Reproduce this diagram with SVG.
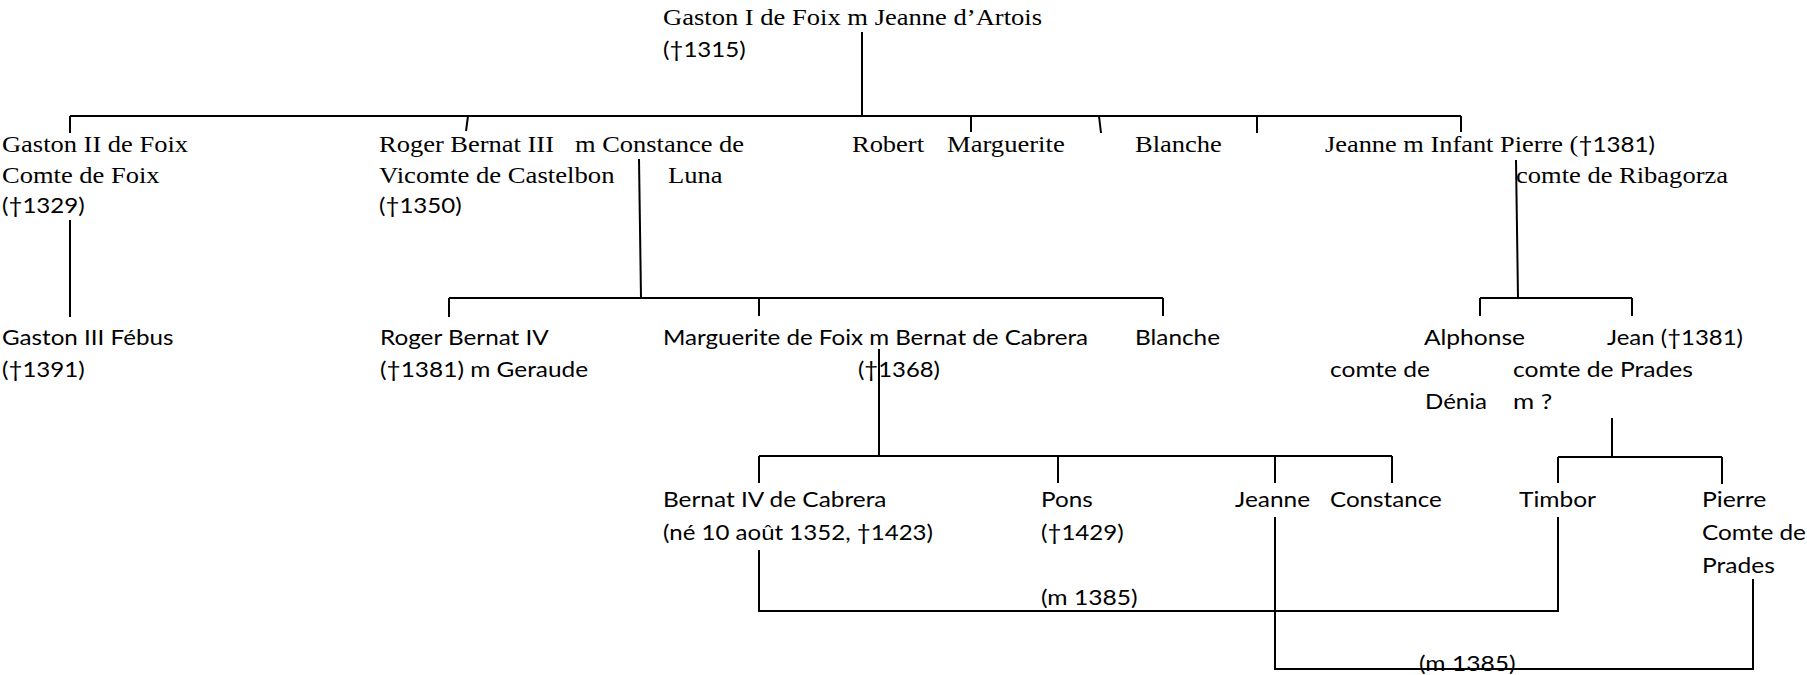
<svg xmlns="http://www.w3.org/2000/svg" width="1807" height="675" viewBox="0 0 1807 675">
<style>
.t{font-family:"Liberation Serif","Times New Roman",serif;font-size:24px;fill:#000}
.c{font-family:Lato,Carlito,"Liberation Sans",sans-serif;font-size:22px;fill:#000}
.ln{stroke:#000;stroke-width:2;fill:none}
</style>
<rect width="1807" height="675" fill="#fff"/>
<g id="connectors" class="ln">
<path d="M862 32V116"/>
<path d="M70 116H1461"/>
<path d="M70 116V133M468 116L466 131M971 116V132M1099 116L1101 133M1257 116V133M1461 116V132"/>
<path d="M70 220V317"/>
<path d="M639 159L641 298"/>
<path d="M449 298H1163M449 298V317M759 298V316M1163 298V316"/>
<path d="M1516 160L1518 298"/>
<path d="M1480 298H1632M1480 298V316M1632 298V316"/>
<path d="M879 349V456"/>
<path d="M759 456H1392M759 456V483M1058 456V483M1275 456V483M1392 456V483"/>
<path d="M1612 418V457"/>
<path d="M1558 457H1722M1558 457V483M1722 457V484"/>
<path d="M759 550V611H1558V517"/>
<path d="M1275 517V669H1753V579"/>
</g>
<g id="marriage-labels">
<text class="c" x="1041" y="605" textLength="96.6" lengthAdjust="spacingAndGlyphs">(m 1385)</text>
<text class="c" x="1419" y="671" textLength="96.6" lengthAdjust="spacingAndGlyphs">(m 1385)</text>
</g>
<g id="n-gaston1">
<text class="t" x="663" y="25" textLength="379" lengthAdjust="spacingAndGlyphs">Gaston I de Foix m Jeanne d’Artois</text>
<text class="c" x="663" y="57" textLength="82.7" lengthAdjust="spacingAndGlyphs">(†1315)</text>
</g>
<g id="n-gaston2">
<text class="t" x="2" y="152" textLength="186" lengthAdjust="spacingAndGlyphs">Gaston II de Foix</text>
<text class="t" x="2" y="183" textLength="157.5" lengthAdjust="spacingAndGlyphs">Comte de Foix</text>
<text class="c" x="2" y="213" textLength="82.7" lengthAdjust="spacingAndGlyphs">(†1329)</text>
</g>
<g id="n-roger3">
<text class="t" x="379" y="152" textLength="175" lengthAdjust="spacingAndGlyphs">Roger Bernat III</text>
<text class="t" x="575" y="152" textLength="169" lengthAdjust="spacingAndGlyphs">m Constance de</text>
<text class="t" x="379" y="183" textLength="235.5" lengthAdjust="spacingAndGlyphs">Vicomte de Castelbon</text>
<text class="t" x="668" y="183" textLength="54.5" lengthAdjust="spacingAndGlyphs">Luna</text>
<text class="c" x="379" y="213" textLength="82.7" lengthAdjust="spacingAndGlyphs">(†1350)</text>
</g>
<g id="n-robert">
<text class="t" x="852" y="152" textLength="72" lengthAdjust="spacingAndGlyphs">Robert</text>
</g>
<g id="n-marguerite1">
<text class="t" x="947" y="152" textLength="117.7" lengthAdjust="spacingAndGlyphs">Marguerite</text>
</g>
<g id="n-blanche1">
<text class="t" x="1135" y="152" textLength="86.8" lengthAdjust="spacingAndGlyphs">Blanche</text>
</g>
<g id="n-jeanne1">
<text x="1325" y="152" textLength="330" lengthAdjust="spacingAndGlyphs"><tspan class="t">Jeanne m Infant Pierre (</tspan><tspan class="c">†1381)</tspan></text>
<text class="t" x="1516" y="183" textLength="212" lengthAdjust="spacingAndGlyphs">comte de Ribagorza</text>
</g>
<g id="n-gaston3">
<text class="c" x="2" y="345" textLength="171.4" lengthAdjust="spacingAndGlyphs">Gaston III Fébus</text>
<text class="c" x="2" y="377" textLength="82.7" lengthAdjust="spacingAndGlyphs">(†1391)</text>
</g>
<g id="n-roger4">
<text class="c" x="380" y="345" textLength="168.8" lengthAdjust="spacingAndGlyphs">Roger Bernat IV</text>
<text class="c" x="380" y="377" textLength="208.2" lengthAdjust="spacingAndGlyphs">(†1381) m Geraude</text>
</g>
<g id="n-marguerite2">
<text class="c" x="663" y="345" textLength="425" lengthAdjust="spacingAndGlyphs">Marguerite de Foix m Bernat de Cabrera</text>
<text class="c" x="858" y="377" textLength="82" lengthAdjust="spacingAndGlyphs">(†1368)</text>
</g>
<g id="n-blanche2">
<text class="c" x="1135" y="345" textLength="85.1" lengthAdjust="spacingAndGlyphs">Blanche</text>
</g>
<g id="n-alphonse">
<text class="c" x="1424" y="345" textLength="101" lengthAdjust="spacingAndGlyphs">Alphonse</text>
<text class="c" x="1330" y="377" textLength="100" lengthAdjust="spacingAndGlyphs">comte de</text>
<text class="c" x="1425" y="409" textLength="62" lengthAdjust="spacingAndGlyphs">Dénia</text>
</g>
<g id="n-jean">
<text class="c" x="1607" y="345" textLength="136" lengthAdjust="spacingAndGlyphs">Jean (†1381)</text>
<text class="c" x="1513" y="377" textLength="180" lengthAdjust="spacingAndGlyphs">comte de Prades</text>
<text class="c" x="1513" y="409" textLength="39.3" lengthAdjust="spacingAndGlyphs">m ?</text>
</g>
<g id="n-bernat4">
<text class="c" x="663" y="507" textLength="223.5" lengthAdjust="spacingAndGlyphs">Bernat IV de Cabrera</text>
<text class="c" x="663" y="540" textLength="270" lengthAdjust="spacingAndGlyphs">(né 10 août 1352, †1423)</text>
</g>
<g id="n-pons">
<text class="c" x="1041" y="507" textLength="51.7" lengthAdjust="spacingAndGlyphs">Pons</text>
<text class="c" x="1041" y="540" textLength="82.7" lengthAdjust="spacingAndGlyphs">(†1429)</text>
</g>
<g id="n-jeanne2">
<text class="c" x="1235" y="507" textLength="75.1" lengthAdjust="spacingAndGlyphs">Jeanne</text>
</g>
<g id="n-constance">
<text class="c" x="1330" y="507" textLength="111.8" lengthAdjust="spacingAndGlyphs">Constance</text>
</g>
<g id="n-timbor">
<text class="c" x="1519" y="507" textLength="77" lengthAdjust="spacingAndGlyphs">Timbor</text>
</g>
<g id="n-pierre">
<text class="c" x="1702" y="507" textLength="64.4" lengthAdjust="spacingAndGlyphs">Pierre</text>
<text class="c" x="1702" y="540" textLength="104" lengthAdjust="spacingAndGlyphs">Comte de</text>
<text class="c" x="1702" y="573" textLength="72.8" lengthAdjust="spacingAndGlyphs">Prades</text>
</g>
</svg>
